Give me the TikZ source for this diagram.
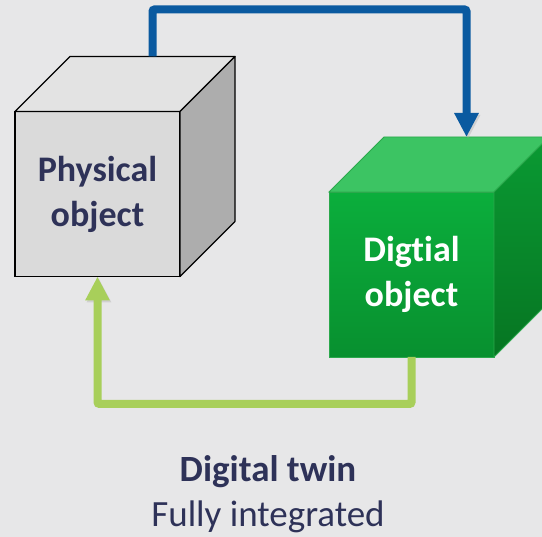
\documentclass[tikz,border=0pt]{standalone}
\usepackage{fontspec}
\setmainfont{Carlito}[Ligatures=NoCommon]
\usetikzlibrary{positioning,
        arrows.meta,
        calc}
\definecolor{bgcol}{HTML}{E7E7E8}
\definecolor{navytext}{HTML}{2E3258}
\definecolor{linkblue}{HTML}{0A5AA0}
\definecolor{linkgreen}{HTML}{A8CF5A}
\definecolor{physfront}{HTML}{DADADA}
\definecolor{phystop}{HTML}{E3E3E3}
\definecolor{physside}{HTML}{ADADAD}
\definecolor{digitop}{HTML}{3CC463}
\definecolor{digifronthi}{HTML}{0BAE3C}
\definecolor{digifrontlo}{HTML}{08902F}
\definecolor{digisidehi}{HTML}{0A9A33}
\definecolor{digisidelo}{HTML}{067522}
\definecolor{digiedge}{HTML}{2BA84C}

\begin{document}
\begin{tikzpicture}[x=1pt,y=-1pt,
        face/.style={rectangle,minimum width=165pt,minimum height=165pt,inner sep=0pt,outer sep=0pt,
            align=center,font=\fontsize{36}{45}\selectfont\bfseries},
        link/.style={line width=8pt,rounded corners=2pt,-{Triangle[width=23pt,length=24pt]},
            preaction={draw=black!35,opacity=0.35,transform canvas={shift={(1.5pt,-2pt)}}}}]
            \fill [bgcol] (0,0) rectangle (542,537);
            \useasboundingbox (0,0) rectangle (542,537);
            \clip (0,0) rectangle (542,537);

            \node [face,draw=black,line width=1.2pt,fill=physfront,text=navytext] (phys) at (97.5,194) {Physical\\object};
            \node [face,draw=digiedge,line width=0.8pt,top color=digifronthi,bottom color=digifrontlo,text=white] (digi) at (411.5,274.5) {Digtial\\object};
            \node [font=\fontsize{37}{40}\selectfont\bfseries,text=navytext] (title) at (268,472) {Digital twin};
            \node [font=\fontsize{37}{40}\selectfont,text=navytext] (sub) at (268,517) {Fully integrated};

            \coordinate (physback) at ($(phys.north)+(55,-55)$);
            \coordinate (digiback) at ($(digi.north)+(55,-55)$);

            \draw [line width=1.2pt,fill=phystop,line join=round] (phys.north west) -- ++(55,-55) -- ++(165,0) -- (phys.north east) -- cycle;
            \draw [line width=1.2pt,fill=physside,line join=round] (phys.north east) -- ++(55,-55) -- ++(0,165) -- (phys.south east) -- cycle;
            \draw [line width=0.8pt,draw=digiedge,fill=digitop] (digi.north west) -- ++(55,-55) -- ++(165,0) -- (digi.north east) -- cycle;
            \draw [line width=0.8pt,draw=digiedge,top color=digisidehi,bottom color=digisidelo] (digi.north east) -- ++(55,-55) -- ++(0,165) -- (digi.south east) -- cycle;

            \draw [link,draw=linkblue] (physback) -- ++(0,-47) -| (digiback);
            \draw [link,draw=linkgreen] (digi.south) -- ++(0,47) -| (phys.south);
        \end{tikzpicture}
\end{document}
